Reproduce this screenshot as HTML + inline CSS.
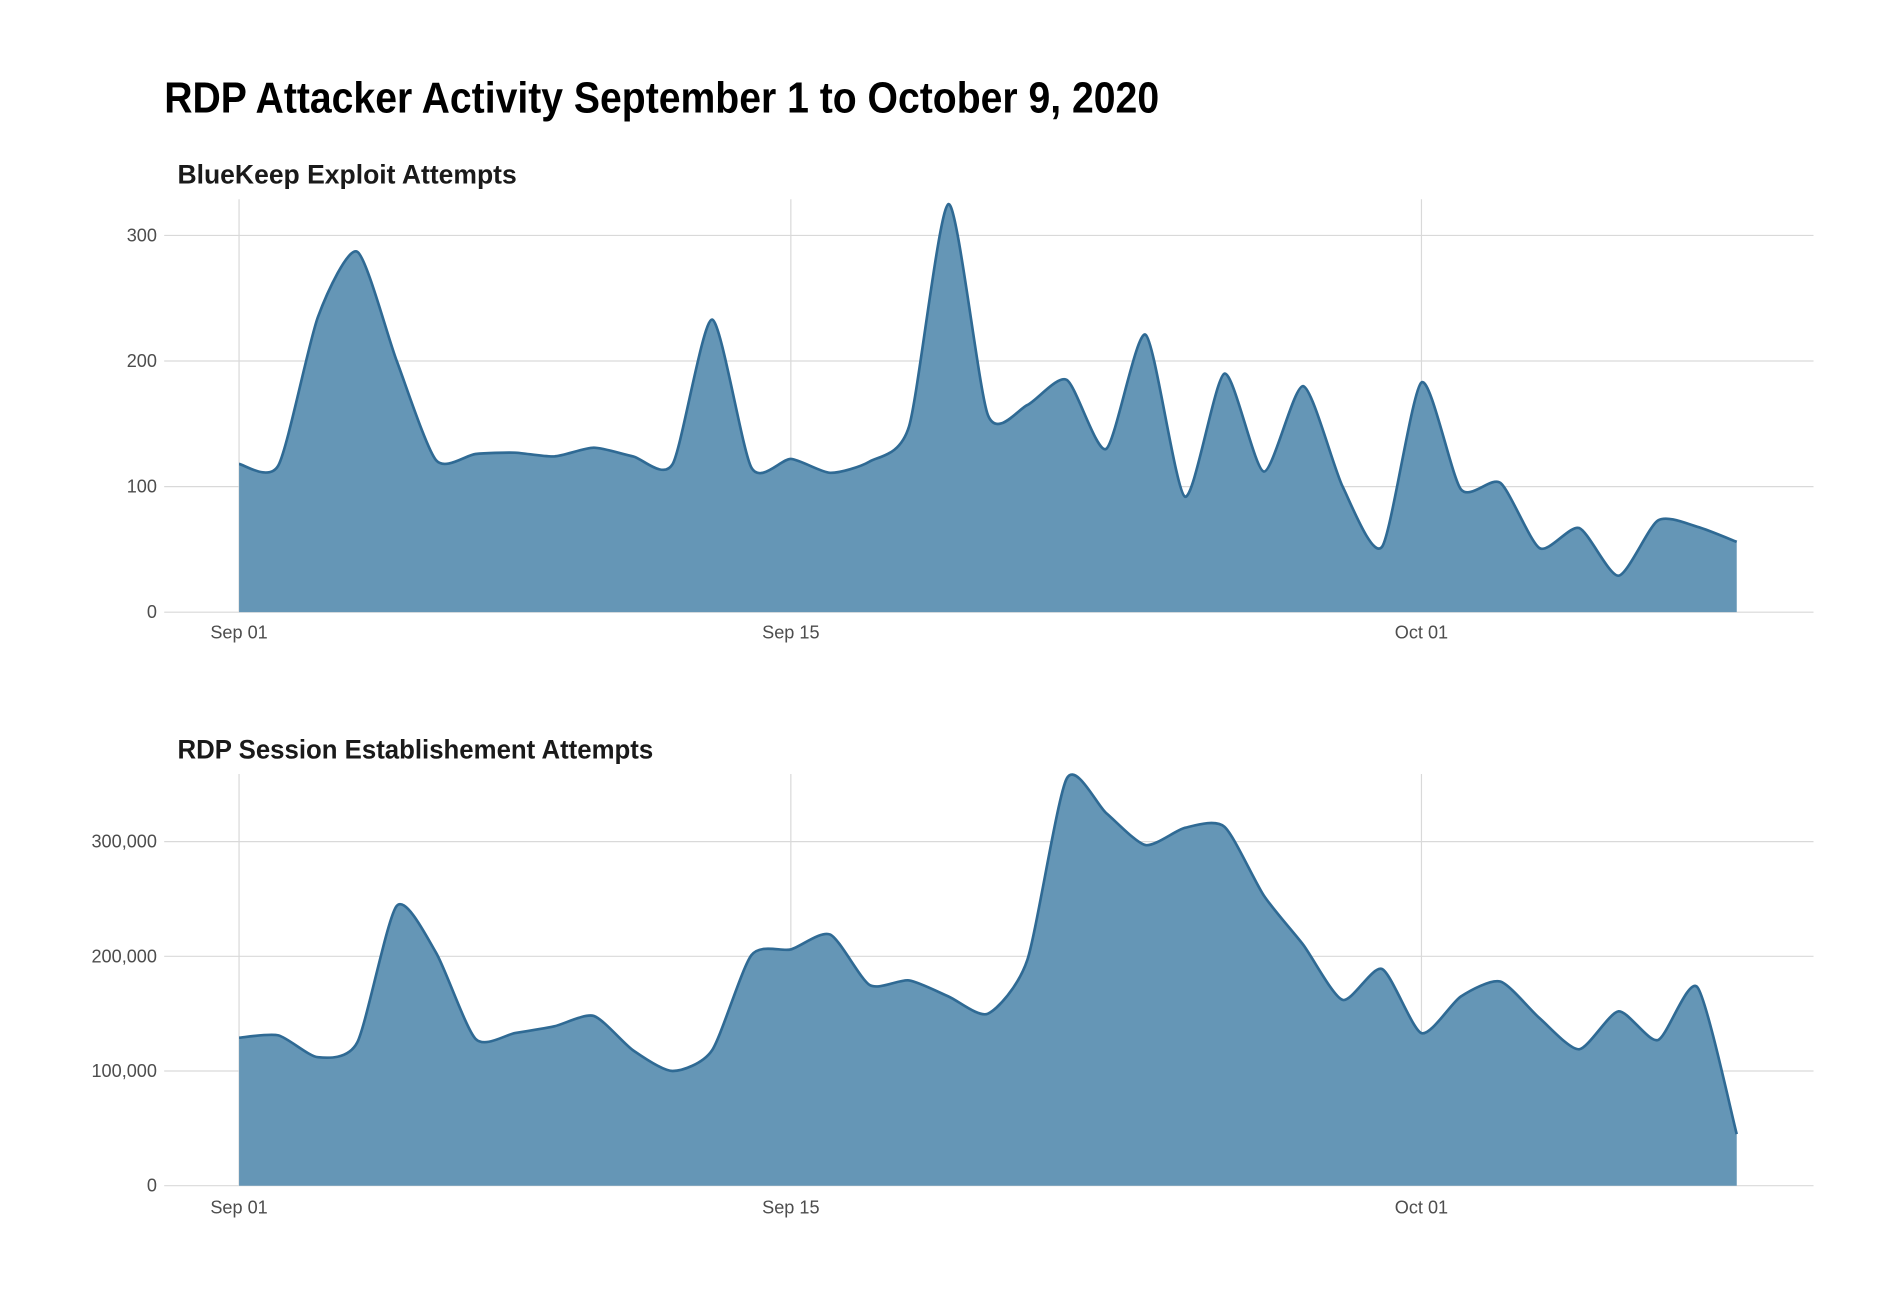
<!DOCTYPE html>
<html><head><meta charset="utf-8">
<style>
html,body{margin:0;padding:0;background:#fff;}
svg{display:block;}
text{font-family:"Liberation Sans Narrow","Liberation Sans",sans-serif;}
</style></head>
<body>
<svg id="s" width="1892" height="1298" viewBox="0 0 1567 1075" preserveAspectRatio="none" xmlns="http://www.w3.org/2000/svg">
<rect width="1567" height="1075" fill="#fff"/>
<text x="136" y="93" font-size="36" font-weight="bold" fill="#000" textLength="824" lengthAdjust="spacingAndGlyphs">RDP Attacker Activity September 1 to October 9, 2020</text>
<text x="147" y="152" font-size="22" font-weight="bold" fill="#1a1a1a" textLength="281" lengthAdjust="spacingAndGlyphs">BlueKeep Exploit Attempts</text>
<text x="147" y="628" font-size="22" font-weight="bold" fill="#1a1a1a" textLength="394" lengthAdjust="spacingAndGlyphs">RDP Session Establishement Attempts</text>
<g id="p1"></g>
<g id="p2"></g>
</svg>
<script>
var NS="http://www.w3.org/2000/svg";
function el(g,t,a,txt){var e=document.createElementNS(NS,t);for(var k in a)e.setAttribute(k,a[k]);if(txt!==undefined)e.textContent=txt;g.appendChild(e);return e;}
function xd(d){return 198+d*(655-198)/14;}
function path(pts){var s="M"+pts[0][0]+","+pts[0][1];for(var i=0;i<pts.length-1;i++){var p0=pts[i-1]||pts[i],p1=pts[i],p2=pts[i+1],p3=pts[i+2]||p2;var t=0.35/3;var c1=[p1[0]+(p2[0]-p0[0])*t,p1[1]+(p2[1]-p0[1])*t];var c2=[p2[0]-(p3[0]-p1[0])*t,p2[1]-(p3[1]-p1[1])*t];s+=" C"+c1[0].toFixed(1)+","+c1[1].toFixed(1)+" "+c2[0].toFixed(1)+","+c2[1].toFixed(1)+" "+p2[0].toFixed(1)+","+p2[1].toFixed(1);}return s;}
function panel(id,data,y0,ppu,top,ticks,labels,xlabY){
 var g=document.getElementById(id);
 ticks.forEach(function(v,i){var y=y0-v*ppu;el(g,"line",{x1:136,x2:1502,y1:y,y2:y,stroke:"#d9d9d9","stroke-width":1});
  el(g,"text",{x:130,y:y+5,"font-size":15,fill:"#4d4d4d","text-anchor":"end"},labels[i]);});
 [[0,"Sep 01"],[14,"Sep 15"],[30,"Oct 01"]].forEach(function(a){var x=xd(a[0]);el(g,"line",{x1:x,x2:x,y1:top,y2:y0,stroke:"#d9d9d9","stroke-width":1});
  el(g,"text",{x:x,y:xlabY,"font-size":15,fill:"#4d4d4d","text-anchor":"middle"},a[1]);});
 var pts=data.map(function(v,i){return [xd(i),y0-v*ppu];});
 var d=path(pts);
 el(g,"path",{d:d+" L"+xd(38)+","+y0+" L"+xd(0)+","+y0+" Z",fill:"#6596b6"});
 el(g,"path",{d:d,fill:"none",stroke:"#2f6a94","stroke-width":2.2});
}
panel("p1",[118,117,235,287,200,121,126,127,124,131,124,118,233,115,122,111,120,148,325,157,165,185,130,221,92,190,112,180,100,52,183,98,103,51,67,29,73,68,56],507,1.04,165,[0,100,200,300],["0","100","200","300"],529);
panel("p2",[129,131,112,125,244,203,128,133,139,148,118,100,118,201,206,219,175,179,165,150,197,355,325,297,312,313,253,210,162,189,133,165,178,146,119,152,127,173,45],982,0.95,641,[0,100,200,300],["0","100,000","200,000","300,000"],1005);
</script>
</body></html>
